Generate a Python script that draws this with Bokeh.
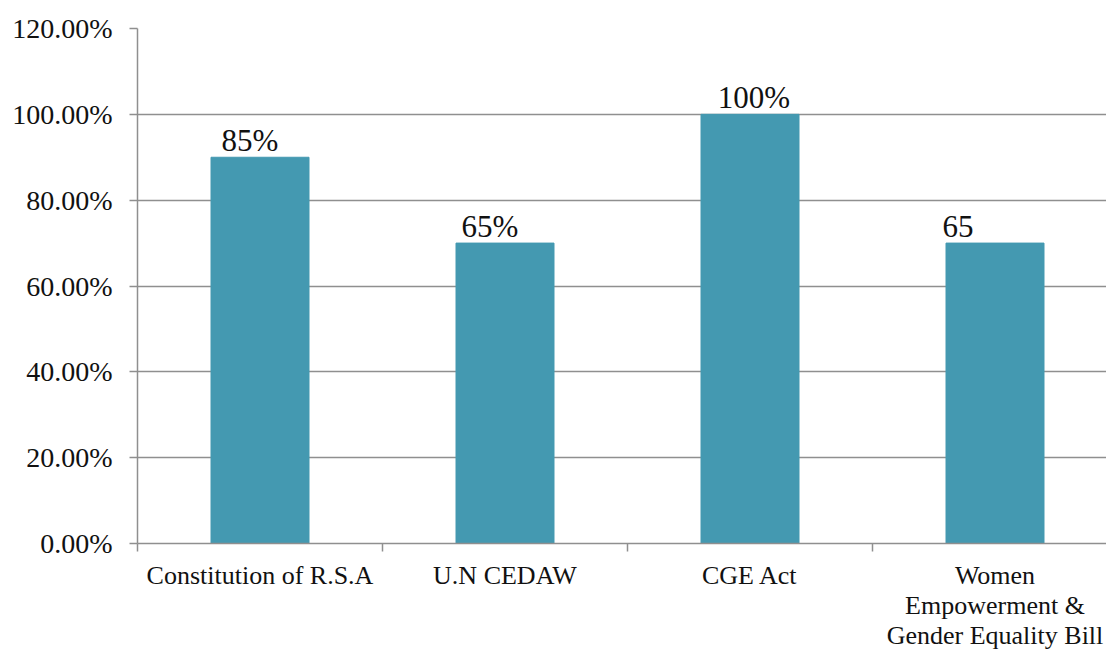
from bokeh.plotting import figure
from bokeh.models import ColumnDataSource, Range1d, FixedTicker, NumeralTickFormatter
from bokeh.embed import file_html
from bokeh.resources import INLINE
from bokeh.core.properties import value

categories = ["Constitution of R.S.A", "U.N CEDAW", "CGE Act", "Women\nEmpowerment &\nGender Equality Bill"]
values = [0.90, 0.70, 1.00, 0.70]
labels = ["85%", "65%", "100%", "65"]
y_ticks = [0.0, 0.2, 0.4, 0.6, 0.8, 1.0, 1.2]

FONT = "Liberation Serif"
BAR = "#4499b1"
GRID = "#8f8f8f"

centers = [i + 0.5 for i in range(len(categories))]
label_dx = [-10, -15, 4, -37]

src = ColumnDataSource(dict(x=centers, top=values, lab=labels, dx=label_dx))

p = figure(width=1106, height=653, output_backend="svg", toolbar_location=None,
           x_range=Range1d(0, 969 / 245), y_range=Range1d(0, 1.2),
           min_border_left=137, min_border_right=0, min_border_top=28, min_border_bottom=110)
p.outline_line_color = None

p.vbar(x="x", top="top", width=0.4, source=src, color=BAR)
p.text(x="x", y="top", text="lab", x_offset="dx", y_offset=-17, source=src,
       text_align="center", text_baseline="alphabetic",
       text_font=value(FONT), text_font_size="31px", text_color="#111111")

# y axis
p.yaxis.ticker = FixedTicker(ticks=y_ticks)
p.yaxis.formatter = NumeralTickFormatter(format="0.00%")
p.yaxis.major_label_text_font = FONT
p.yaxis.major_label_text_font_size = "28px"
p.yaxis.major_label_text_color = "#111111"
p.yaxis.major_label_standoff = 17
p.yaxis.major_tick_in = 0
p.yaxis.major_tick_out = 8
p.yaxis.minor_tick_line_color = None
p.yaxis.axis_line_color = GRID
p.yaxis.axis_line_width = 1.5
p.yaxis.major_tick_line_color = GRID
p.yaxis.major_tick_line_width = 1.5

# x axis: labels at centers, tick marks at boundaries (minor ticks)
p.xaxis.ticker = FixedTicker(ticks=centers, minor_ticks=list(range(len(categories) + 1)))
p.xaxis.major_label_overrides = {c: lab for c, lab in zip(centers, categories)}
p.xaxis.major_label_text_font = FONT
p.xaxis.major_label_text_font_size = "26px"
p.xaxis.major_label_text_line_height = 1.05
p.xaxis.major_label_text_color = "#111111"
p.xaxis.major_label_standoff = 9
p.xaxis.major_tick_line_color = None
p.xaxis.minor_tick_in = 0
p.xaxis.minor_tick_out = 8
p.xaxis.minor_tick_line_color = GRID
p.xaxis.minor_tick_line_width = 1.5
p.xaxis.axis_line_color = GRID
p.xaxis.axis_line_width = 1.5

p.xgrid.grid_line_color = None
p.ygrid.grid_line_color = GRID
p.ygrid.grid_line_width = 1.5

open("out.html", "w").write(file_html(p, INLINE))
